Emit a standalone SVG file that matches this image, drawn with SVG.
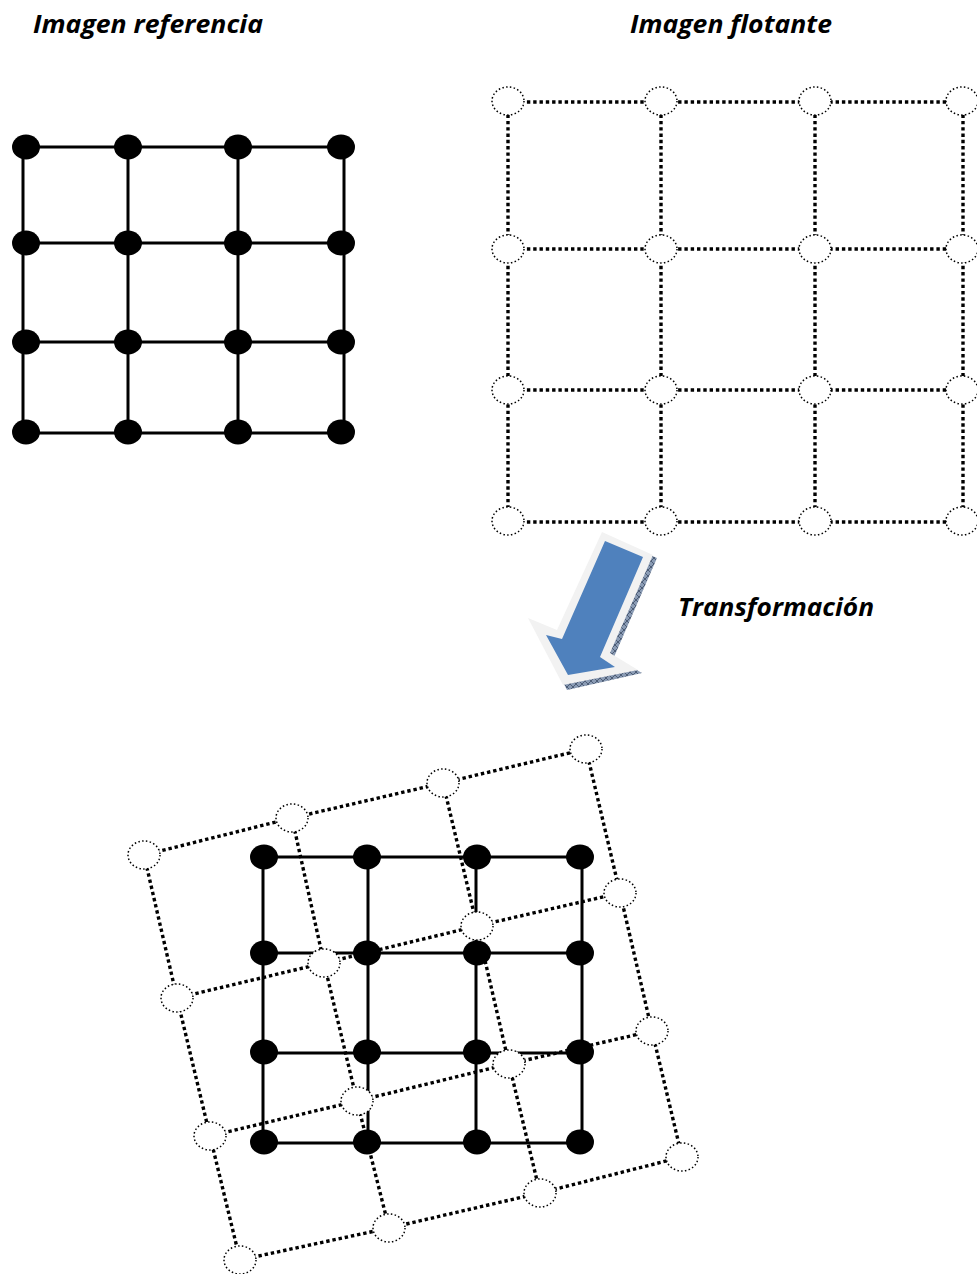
<svg xmlns="http://www.w3.org/2000/svg" width="977" height="1274" viewBox="0 0 977 1274">
  <style>
    .title { font-family: "Open Sans", "Liberation Sans", sans-serif; font-weight: bold; font-style: italic; font-size: 25px; fill: #000; }
    .solid { stroke: #000; stroke-width: 3; fill: none; }
    .dotted { stroke: #000; stroke-width: 3.4; stroke-dasharray: 3.4 2.9; fill: none; }
    .node { fill: #000; }
    .hollow { fill: #fff; stroke: #000; stroke-width: 1.5; stroke-dasharray: 1.5 2.3; }
  </style>
  <defs>
    <pattern id="hatch" width="6" height="6" patternUnits="userSpaceOnUse">
      <rect width="6" height="6" fill="#8a9bb4"/>
      <path d="M0 0 L6 6 M6 0 L0 6" stroke="#3d4d66" stroke-width="0.8"/>
    </pattern>
  </defs>

  <!-- headings -->
  <text class="title" x="33" y="33" textLength="230" lengthAdjust="spacingAndGlyphs">Imagen referencia</text>
  <text class="title" x="630" y="33" textLength="202" lengthAdjust="spacingAndGlyphs">Imagen flotante</text>
  <text class="title" x="678" y="616" textLength="196" lengthAdjust="spacingAndGlyphs">Transformación</text>

  <!-- reference grid: connectors -->
  <g id="ref-connectors" class="solid">
    <path d="M23 147 H344 M23 243 H344 M23 342 H344 M23 433 H344"/>
    <path d="M23 147 V433 M128 147 V433 M238 147 V433 M344 147 V433"/>
  </g>
  <!-- reference grid: nodes -->
  <g id="ref-nodes" class="node">
    <g id="r00"><ellipse cx="26" cy="147" rx="14" ry="12.5"/></g>
    <g id="r01"><ellipse cx="128" cy="147" rx="14" ry="12.5"/></g>
    <g id="r02"><ellipse cx="238" cy="147" rx="14" ry="12.5"/></g>
    <g id="r03"><ellipse cx="341" cy="147" rx="14" ry="12.5"/></g>
    <g id="r10"><ellipse cx="26" cy="243" rx="14" ry="12.5"/></g>
    <g id="r11"><ellipse cx="128" cy="243" rx="14" ry="12.5"/></g>
    <g id="r12"><ellipse cx="238" cy="243" rx="14" ry="12.5"/></g>
    <g id="r13"><ellipse cx="341" cy="243" rx="14" ry="12.5"/></g>
    <g id="r20"><ellipse cx="26" cy="342" rx="14" ry="12.5"/></g>
    <g id="r21"><ellipse cx="128" cy="342" rx="14" ry="12.5"/></g>
    <g id="r22"><ellipse cx="238" cy="342" rx="14" ry="12.5"/></g>
    <g id="r23"><ellipse cx="341" cy="342" rx="14" ry="12.5"/></g>
    <g id="r30"><ellipse cx="26" cy="432" rx="14" ry="12.5"/></g>
    <g id="r31"><ellipse cx="128" cy="432" rx="14" ry="12.5"/></g>
    <g id="r32"><ellipse cx="238" cy="432" rx="14" ry="12.5"/></g>
    <g id="r33"><ellipse cx="341" cy="432" rx="14" ry="12.5"/></g>
  </g>

  <!-- floating grid: connectors -->
  <g id="flo-connectors" class="dotted">
    <path d="M508 102 H963 M508 249 H963 M508 390 H963 M508 522 H963"/>
    <path d="M508 102 V522 M661 102 V522 M815 102 V522 M963 102 V522"/>
  </g>
  <!-- floating grid: nodes -->
  <g id="flo-nodes" class="hollow">
    <g id="f00"><ellipse cx="508" cy="101" rx="16" ry="14"/></g>
    <g id="f01"><ellipse cx="661" cy="101" rx="16" ry="14"/></g>
    <g id="f02"><ellipse cx="815" cy="101" rx="16" ry="14"/></g>
    <g id="f03"><ellipse cx="962" cy="101" rx="16" ry="14"/></g>
    <g id="f10"><ellipse cx="508" cy="249" rx="16" ry="14"/></g>
    <g id="f11"><ellipse cx="661" cy="249" rx="16" ry="14"/></g>
    <g id="f12"><ellipse cx="815" cy="249" rx="16" ry="14"/></g>
    <g id="f13"><ellipse cx="962" cy="249" rx="16" ry="14"/></g>
    <g id="f20"><ellipse cx="508" cy="390" rx="16" ry="14"/></g>
    <g id="f21"><ellipse cx="661" cy="390" rx="16" ry="14"/></g>
    <g id="f22"><ellipse cx="815" cy="390" rx="16" ry="14"/></g>
    <g id="f23"><ellipse cx="962" cy="390" rx="16" ry="14"/></g>
    <g id="f30"><ellipse cx="508" cy="521" rx="16" ry="14"/></g>
    <g id="f31"><ellipse cx="661" cy="521" rx="16" ry="14"/></g>
    <g id="f32"><ellipse cx="815" cy="521" rx="16" ry="14"/></g>
    <g id="f33"><ellipse cx="962" cy="521" rx="16" ry="14"/></g>
  </g>

  <!-- transformation arrow -->
  <g id="arrow">
    <polygon points="605,535 657,558 614,657 642,673 567,690 532,622 560,634" fill="url(#hatch)"/>
    <polygon points="602,532 653,555 610,653 638,670 563,685 528,618 557,630" fill="#f2f2f2"/>
    <polygon points="605,541 643,557 600,657 615,667 568,675 546,635 562,639" fill="#4f81bd"/>
  </g>

  <!-- combined view: floating grid after transformation -->
  <g id="moved-connectors" class="dotted">
    <polyline points="144,855 292,818 443,783 586,749"/>
    <polyline points="177,998 324,963 477,926 620,893"/>
    <polyline points="210,1136 357,1101 509,1064 652,1031"/>
    <polyline points="240,1260 389,1228 540,1193 682,1157"/>
    <polyline points="144,855 177,998 210,1136 240,1260"/>
    <polyline points="292,818 324,963 357,1101 389,1228"/>
    <polyline points="443,783 477,926 509,1064 540,1193"/>
    <polyline points="586,749 620,893 652,1031 682,1157"/>
  </g>
  <!-- combined view: reference grid -->
  <g id="fixed-connectors" class="solid">
    <path d="M263 857 H582 M263 953 H582 M263 1053 H582 M263 1143 H582"/>
    <path d="M263 857 V1143 M368 857 V1143 M476 857 V1143 M582 857 V1143"/>
  </g>
  <g id="moved-nodes" class="hollow">
    <g id="m00"><ellipse cx="144" cy="855" rx="16" ry="14"/></g>
    <g id="m01"><ellipse cx="292" cy="818" rx="16" ry="14"/></g>
    <g id="m02"><ellipse cx="443" cy="783" rx="16" ry="14"/></g>
    <g id="m03"><ellipse cx="586" cy="749" rx="16" ry="14"/></g>
    <g id="m10"><ellipse cx="177" cy="998" rx="16" ry="14"/></g>
    <g id="m11"><ellipse cx="324" cy="963" rx="16" ry="14"/></g>
    <g id="m12"><ellipse cx="477" cy="926" rx="16" ry="14"/></g>
    <g id="m13"><ellipse cx="620" cy="893" rx="16" ry="14"/></g>
    <g id="m20"><ellipse cx="210" cy="1136" rx="16" ry="14"/></g>
    <g id="m21"><ellipse cx="357" cy="1101" rx="16" ry="14"/></g>
    <g id="m22"><ellipse cx="509" cy="1064" rx="16" ry="14"/></g>
    <g id="m23"><ellipse cx="652" cy="1031" rx="16" ry="14"/></g>
    <g id="m30"><ellipse cx="240" cy="1260" rx="16" ry="14"/></g>
    <g id="m31"><ellipse cx="389" cy="1228" rx="16" ry="14"/></g>
    <g id="m32"><ellipse cx="540" cy="1193" rx="16" ry="14"/></g>
    <g id="m33"><ellipse cx="682" cy="1157" rx="16" ry="14"/></g>
  </g>
  <g id="fixed-nodes" class="node">
    <g id="c00"><ellipse cx="264" cy="857" rx="14" ry="12.5"/></g>
    <g id="c01"><ellipse cx="367" cy="857" rx="14" ry="12.5"/></g>
    <g id="c02"><ellipse cx="477" cy="857" rx="14" ry="12.5"/></g>
    <g id="c03"><ellipse cx="580" cy="857" rx="14" ry="12.5"/></g>
    <g id="c10"><ellipse cx="264" cy="953" rx="14" ry="12.5"/></g>
    <g id="c11"><ellipse cx="367" cy="953" rx="14" ry="12.5"/></g>
    <g id="c12"><ellipse cx="477" cy="953" rx="14" ry="12.5"/></g>
    <g id="c13"><ellipse cx="580" cy="953" rx="14" ry="12.5"/></g>
    <g id="c20"><ellipse cx="264" cy="1052" rx="14" ry="12.5"/></g>
    <g id="c21"><ellipse cx="367" cy="1052" rx="14" ry="12.5"/></g>
    <g id="c22"><ellipse cx="477" cy="1052" rx="14" ry="12.5"/></g>
    <g id="c23"><ellipse cx="580" cy="1052" rx="14" ry="12.5"/></g>
    <g id="c30"><ellipse cx="264" cy="1142" rx="14" ry="12.5"/></g>
    <g id="c31"><ellipse cx="367" cy="1142" rx="14" ry="12.5"/></g>
    <g id="c32"><ellipse cx="477" cy="1142" rx="14" ry="12.5"/></g>
    <g id="c33"><ellipse cx="580" cy="1142" rx="14" ry="12.5"/></g>
  </g>
</svg>
